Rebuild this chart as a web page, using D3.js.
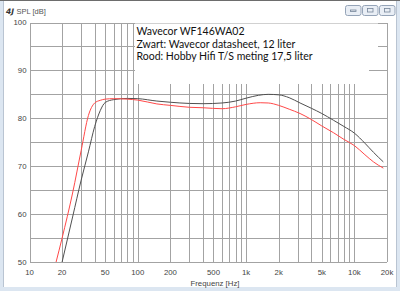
<!DOCTYPE html>
<html>
<head>
<meta charset="utf-8">
<script src="https://cdn.jsdelivr.net/npm/d3@7"></script>
<style>
  body { margin: 0; background: #fff; }
  svg { display: block; }
</style>
</head>
<body>
<svg id="canvas"></svg>
<script>
let width = 400, height = 291;

// Zwart: Wavecor datasheet, 12 liter
let blackFreq = [20, 25, 30, 35, 40, 45, 50, 60, 80, 100, 150, 200, 300, 400, 600, 800, 1000, 1300, 1600, 2000, 2500, 3150, 4000, 5000, 6400, 8000, 10000, 12500, 15000, 18500];
let blackDb   = [50, 59.4, 67.1, 73, 78.3, 81.6, 83.3, 83.9, 84.15, 84.1, 83.6, 83.35, 83.1, 83.05, 83.2, 83.6, 84.2, 84.8, 85.0, 84.9, 84.3, 83.2, 82.1, 81.0, 79.6, 78.3, 76.9, 74.8, 72.9, 70.9];

// Rood: Hobby Hifi T/S meting 17,5 liter
let redFreq = [17.6, 20, 25, 30, 35, 40, 45, 50, 60, 80, 100, 150, 200, 300, 400, 600, 800, 1000, 1350, 1600, 2000, 2500, 3150, 3900, 5000, 6400, 8000, 10000, 12500, 15000, 18500];
let redDb   = [50, 55, 64.4, 73.3, 80.6, 83.2, 83.75, 84.0, 84.1, 84.0, 83.8, 83.0, 82.7, 82.3, 82.2, 82.0, 82.4, 82.9, 83.25, 83.2, 82.7, 81.9, 81.0, 79.9, 78.4, 77.0, 75.6, 74.3, 72.4, 70.9, 69.6];

let xTickLabels = [10, 20, 50, 100, 200, 500, 1000, 2000, 5000, 10000, 20000];
let yTickLabels = [50, 60, 70, 80, 90, 100];
let legendLines = ["Wavecor WF146WA02", "Zwart: Wavecor datasheet, 12 liter", "Rood: Hobby Hifi T/S meting 17,5 liter"];

let canvas = d3.select("#canvas").attr("width", width).attr("height", height);

// window chrome
canvas.append("rect").attr("x", 0).attr("y", 0).attr("width", width).attr("height", height).attr("fill", "#dce6f1");
canvas.append("rect").attr("x", 4).attr("y", 1).attr("width", 392).attr("height", 286).attr("fill", "#fff");
canvas.append("line").attr("x1", 0).attr("x2", width).attr("y1", 0.5).attr("y2", 0.5).attr("stroke", "#6d6d6d");
canvas.append("line").attr("x1", 3.5).attr("x2", 3.5).attr("y1", 1).attr("y2", 287).attr("stroke", "#b9c4d2");
canvas.append("line").attr("x1", 396.5).attr("x2", 396.5).attr("y1", 1).attr("y2", 287).attr("stroke", "#b9c4d2");
canvas.append("text").attr("x", 6).attr("y", 14).attr("font-family", "DejaVu Sans").attr("font-weight", "bold")
  .attr("font-style", "italic").attr("font-size", 7.5).attr("fill", "#333").text("4J");
canvas.append("text").attr("x", 16.5).attr("y", 14).attr("font-family", "Liberation Sans").attr("font-size", 7.5)
  .attr("fill", "#555").text("SPL [dB]");

let buttons = canvas.append("g");
[345, 362, 379].forEach((bx, i) => {
  buttons.append("rect").attr("x", bx + 0.5).attr("y", 5.5).attr("width", 15.5).attr("height", 10).attr("rx", 2)
    .attr("fill", "#e9eef5").attr("stroke", "#95a4b8");
  buttons.append("rect").attr("x", bx + 5.5).attr("y", i == 0 ? 10 : 8.5).attr("width", 5.5).attr("height", i == 0 ? 1.5 : 3.5)
    .attr("fill", "none").attr("stroke", "#75859a").attr("stroke-width", 0.8);
});

// scales
let x = d3.scaleLog().domain([10, 20000]).range([29.5, 387]);
let y = d3.scaleLinear().domain([50, 100]).range([262, 22.5]);

let grid = canvas.append("g").attr("shape-rendering", "crispEdges").attr("stroke", "#a3a3a3");
grid.selectAll(".vgrid")
  .data(x.ticks())
  .enter()
  .append("line")
  .attr("class", "vgrid")
  .attr("x1", d => Math.round(x(d)) + 0.5).attr("x2", d => Math.round(x(d)) + 0.5)
  .attr("y1", y(100)).attr("y2", y(50));
grid.selectAll(".hgrid")
  .data(d3.range(50, 101, 5))
  .enter()
  .append("line")
  .attr("class", "hgrid")
  .attr("x1", x(10)).attr("x2", x(20000))
  .attr("y1", d => Math.round(y(d)) + 0.5).attr("y2", d => Math.round(y(d)) + 0.5);

// legend box hides grid behind it
canvas.append("rect").attr("x", 135).attr("y", 23.5).attr("width", 243).attr("height", 35).attr("fill", "#fff");
canvas.append("rect").attr("x", 135).attr("y", 55).attr("width", 234).attr("height", 29).attr("fill", "#fff");

canvas.append("g").selectAll("text")
  .data(legendLines)
  .enter()
  .append("text")
  .attr("x", 136.5)
  .attr("y", (d, i) => 35 + i * 12.6)
  .attr("font-family", "Lato")
  .attr("font-size", 10.5)
  .attr("fill", "#111")
  .text(d => d);

// tick labels
let fmt = d => d >= 1000 ? (d / 1000) + "k" : d;
canvas.append("g").selectAll("text")
  .data(xTickLabels)
  .enter()
  .append("text")
  .attr("x", d => x(d))
  .attr("y", 275)
  .attr("text-anchor", "middle")
  .attr("font-family", "Liberation Sans")
  .attr("font-size", 7.8)
  .attr("fill", "#444")
  .text(fmt);

canvas.append("g").selectAll("text")
  .data(yTickLabels)
  .enter()
  .append("text")
  .attr("x", 26.5)
  .attr("y", d => y(d) + 2.7)
  .attr("text-anchor", "end")
  .attr("font-family", "Liberation Sans")
  .attr("font-size", 7.8)
  .attr("fill", "#444")
  .text(d => d);

canvas.append("text").attr("x", 215).attr("y", 285.5).attr("text-anchor", "middle")
  .attr("font-family", "Liberation Sans").attr("font-size", 7.8).attr("fill", "#444").text("Frequenz [Hz]");

// curves
let line = d3.line()
  .x(d => x(d[0]))
  .y(d => y(d[1]))
  .curve(d3.curveMonotoneX);

canvas.append("path")
  .datum(d3.zip(blackFreq, blackDb))
  .attr("d", line)
  .attr("fill", "none")
  .attr("stroke", "#505050")
  .attr("stroke-width", 1);

canvas.append("path")
  .datum(d3.zip(redFreq, redDb))
  .attr("d", line)
  .attr("fill", "none")
  .attr("stroke", "#ff4848")
  .attr("stroke-width", 1);
</script>
</body>
</html>
